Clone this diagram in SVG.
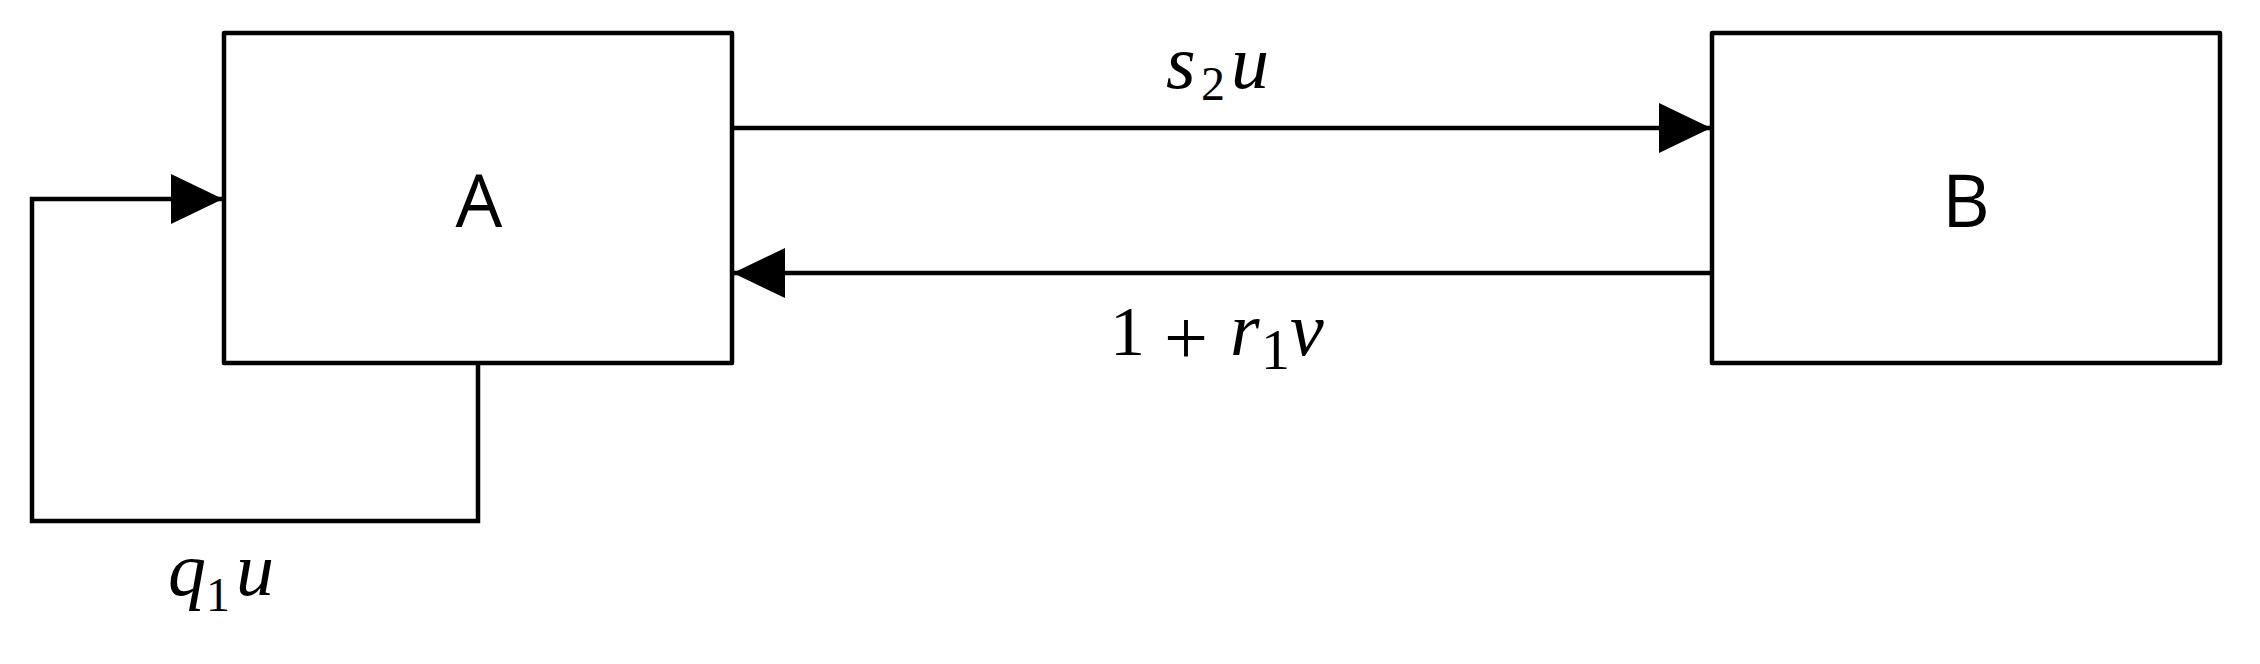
<svg xmlns="http://www.w3.org/2000/svg" width="2260" height="664" viewBox="0 0 2260 664">
<style>
.box{fill:#fff;stroke:#000;stroke-width:4.5;stroke-linejoin:round}
.line{fill:none;stroke:#000;stroke-width:4.5}
.lbl{font-family:"Open Sans","Liberation Sans",sans-serif;font-size:74px;fill:#000;text-anchor:middle}
.m{font-family:"Liberation Serif","DejaVu Serif",serif;font-style:italic;font-size:76px;fill:#000}
.n{font-family:"Liberation Serif","DejaVu Serif",serif;font-size:70px;fill:#000}
.s{font-family:"Liberation Serif","DejaVu Serif",serif;font-size:48px;fill:#000}
</style>
<defs>
<marker id="ah" markerUnits="userSpaceOnUse" markerWidth="52" markerHeight="50" refX="52" refY="25" orient="auto">
<path d="M0,0 L52,25 L0,50 Z" fill="#000"/>
</marker>
</defs>
<rect width="2260" height="664" fill="#fff"/>
<g id="nodeA">
<rect class="box" x="224" y="33" width="508" height="330"/>
<text class="lbl" x="479" y="227">A</text>
</g>
<g id="nodeB">
<rect class="box" x="1712" y="33" width="508" height="330"/>
<text class="lbl" x="1966" y="227">B</text>
</g>
<g id="connectors">
<path class="line" d="M732,128 H1711" marker-end="url(#ah)"/>
<path class="line" d="M1712,273 H733" marker-end="url(#ah)"/>
<path class="line" d="M478,363 V521 H32 V199 H223" marker-end="url(#ah)"/>
</g>
<g id="labels">
<text class="m" x="1166" y="88">s</text>
<text class="s" x="1201" y="100">2</text>
<text class="m" x="1231" y="88">u</text>
<text class="n" x="1110" y="355">1</text>
<text class="n" x="1164" y="364" style="font-size:78px">+</text>
<text class="m" x="1230" y="355">r</text>
<text class="s" x="1261" y="369" style="font-size:58px">1</text>
<text class="m" x="1290" y="355">v</text>
<text class="m" x="168" y="595">q</text>
<text class="s" x="206" y="611">1</text>
<text class="m" x="236" y="595">u</text>
</g>
</svg>
